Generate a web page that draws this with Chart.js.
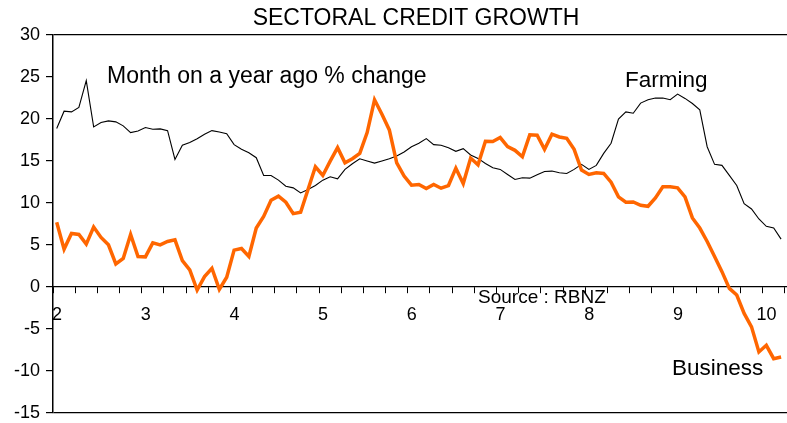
<!DOCTYPE html>
<html>
<head>
<meta charset="utf-8">
<script src="https://cdn.jsdelivr.net/npm/chart.js@4"></script>
<style>
  html, body { margin: 0; padding: 0; background: #fff; }
  #wrap { width: 787px; height: 423px; }
</style>
</head>
<body>
<div id="wrap"><canvas id="myChart"></canvas></div>
<script>
// monthly series, Jan 2002 .. Mar 2010, year on year % change
const startYear = 2;
const farming = [
  18.86, 20.93, 20.85, 21.37, 24.56, 19.06, 19.58, 19.78, 19.66, 19.18, 18.38, 18.58,
  18.98, 18.78, 18.82, 18.62, 15.19, 16.87, 17.19, 17.66, 18.18, 18.62, 18.46, 18.26,
  16.95, 16.39, 15.99, 15.39, 13.28, 13.28, 12.72, 12.0, 11.8, 11.2, 11.6, 12.08,
  12.72, 13.12, 12.88, 14.0, 14.67, 15.27, 15.0, 14.75, 15.0, 15.27, 15.59, 16.07,
  16.7, 17.11, 17.66, 16.95, 16.87, 16.59, 16.15, 16.47, 15.71, 15.31, 14.71, 14.19,
  14.0, 13.4, 12.8, 13.0, 12.96, 13.36, 13.75, 13.8, 13.6, 13.52, 14.0, 14.6,
  14.0, 14.48, 15.91, 17.11, 19.98, 20.85, 20.69, 21.89, 22.29, 22.49, 22.49, 22.29,
  22.97, 22.45, 21.85, 21.09, 16.7, 14.6, 14.48, 13.28, 12.08, 9.93, 9.29, 8.1,
  7.22, 7.02, 5.7
];
const business = [
  7.70, 4.51, 6.38, 6.26, 5.10, 7.14, 5.90, 5.02, 2.75, 3.39, 6.26, 3.63,
  3.59, 5.26, 5.02, 5.42, 5.62, 3.15, 2.03, -0.36, 1.24, 2.23, -0.28, 1.16,
  4.39, 4.59, 3.63, 7.02, 8.41, 10.33, 10.81, 10.09, 8.73, 8.89, 11.6, 14.31,
  13.28, 14.99, 16.59, 14.79, 15.27, 15.91, 18.38, 22.29, 20.57, 18.70, 14.79, 13.2,
  12.12, 12.2, 11.72, 12.2, 11.76, 12.08, 14.15, 12.32, 15.35, 14.55, 17.35, 17.31,
  17.79, 16.71, 16.27, 15.51, 18.11, 18.07, 16.39, 18.19, 17.86, 17.7, 16.39, 13.92,
  13.4, 13.6, 13.52, 12.48, 10.73, 10.09, 10.13, 9.73, 9.61, 10.61, 11.92, 11.92,
  11.8, 10.73, 8.22, 7.02, 5.42, 3.63, 1.83, -0.16, -0.96, -3.15, -4.74, -7.73,
  -6.94, -8.53, -8.33
];
const yTicks = [30, 25, 20, 15, 10, 5, 0, -5, -10, -15];

const FONT = 'Liberation Sans, Arial, Helvetica, sans-serif';

// points sit mid-month, x axis in months from Jan 2002
const toPoints = arr => arr.map((v, i) => ({ x: i + 0.5, y: v }));

// texts written on the chart
const textPlugin = {
  id: 'texts',
  afterDraw(chart) {
    const c = chart.ctx;
    c.save();
    c.fillStyle = '#000';
    c.textBaseline = 'alphabetic';
    c.font = '23px ' + FONT;
    c.textAlign = 'center';
    c.fillText('SECTORAL CREDIT GROWTH', 416, 25);
    c.textAlign = 'left';
    c.fillText('Month on a year ago % change', 107, 83);
    c.font = '22.5px ' + FONT;
    c.fillText('Farming', 625, 87);
    c.fillText('Business', 672, 375);
    c.font = '19px ' + FONT;
    c.fillText('Source : RBNZ', 478, 303);
    c.restore();
  }
};

const config = {
  type: 'line',
  data: {
    datasets: [
      {
        label: 'Business',
        data: toPoints(business),
        borderColor: '#ff6600',
        borderWidth: 3.5,
        pointRadius: 0,
        tension: 0
      },
      {
        label: 'Farming',
        data: toPoints(farming),
        borderColor: '#000000',
        borderWidth: 1.1,
        pointRadius: 0,
        tension: 0
      }
    ]
  },
  options: {
    responsive: true,
    maintainAspectRatio: false,
    animation: false,
    layout: { padding: { top: 35, bottom: 10, left: 0, right: 0 } },
    plugins: {
      legend: { display: false },
      title: { display: false },
      tooltip: { enabled: false }
    },
    scales: {
      x: {
        type: 'linear',
        position: { y: 0 },
        min: 0,
        max: 99.3,
        afterBuildTicks: (scale) => {
          const t = [];
          for (let v = 0; v <= 99; v += 3) t.push({ value: v });
          scale.ticks = t;
        },
        afterFit: (scale) => {
          scale.paddingLeft = 0;
          scale.paddingRight = 0;
        },
        ticks: {
          autoSkip: false,
          maxRotation: 0,
          labelOffset: 4,
          padding: 11,
          color: '#000',
          font: { family: FONT, size: 18 },
          callback: (v) => (v % 12 === 0 ? String(startYear + v / 12) : '')
        },
        grid: {
          drawOnChartArea: false,
          drawTicks: true,
          tickLength: 6,
          tickColor: '#000'
        },
        border: { display: true, color: '#000', width: 1.2 }
      },
      y: {
        min: -15,
        max: 30,
        afterFit: (scale) => {
          scale.width = 53;
          scale.paddingTop = 0;
          scale.paddingBottom = 0;
        },
        afterBuildTicks: (scale) => { scale.ticks = yTicks.map(v => ({ value: v })); },
        ticks: {
          padding: 6,
          color: '#000',
          font: { family: FONT, size: 18 }
        },
        grid: {
          color: (ctx) => (ctx.tick && (ctx.tick.value === 30 || ctx.tick.value === -15)) ? '#000' : 'rgba(0,0,0,0)',
          tickColor: '#000',
          tickLength: 7,
          lineWidth: 1.2
        },
        border: { display: true, color: '#000', width: 1.5 }
      }
    }
  },
  plugins: [textPlugin]
};

const ctx = document.getElementById('myChart').getContext('2d');
const myChart = new Chart(ctx, config);
</script>
</body>
</html>
